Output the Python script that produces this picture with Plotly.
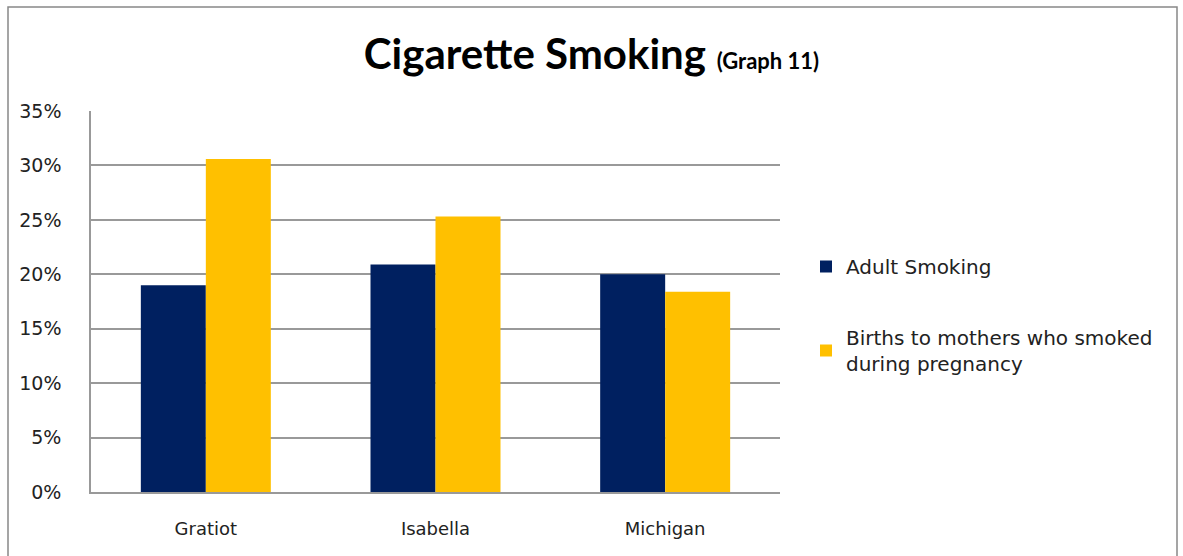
import plotly.graph_objects as go

categories = ["Gratiot", "Isabella", "Michigan"]
adult_smoking = [0.19, 0.209, 0.20]
births_smoked = [0.306, 0.253, 0.184]
series_names = ["Adult Smoking", "Births to mothers who smoked<br>during pregnancy"]
y_ticks = [0, 0.05, 0.10, 0.15, 0.20, 0.25, 0.30, 0.35]
y_tick_labels = ["0%", "5%", "10%", "15%", "20%", "25%", "30%", "35%"]

W, H = 1183, 556
L, R, T, B = 91, 403, 111, 64
pw, ph = W - L - R, H - T - B

def px_x(x):
    return (x - L) / pw

def px_y(y):
    return (H - B - y) / ph

fig = go.Figure()
fig.add_trace(go.Bar(x=categories, y=adult_smoking, name=series_names[0],
                     legendgroup="a",
                     marker=dict(color="#002060", line=dict(width=0))))
fig.add_trace(go.Bar(x=categories, y=births_smoked, name=series_names[1],
                     legendgroup="b",
                     marker=dict(color="#FFC000", line=dict(width=0))))

fig.update_layout(
    width=W, height=H,
    margin=dict(l=L, r=R, t=T, b=B, pad=0),
    paper_bgcolor="white", plot_bgcolor="white",
    barmode="group", bargap=0.434, bargroupgap=0,
    showlegend=True,
    legend=dict(x=px_x(806), y=px_y(247), xanchor="left", yanchor="top",
                font=dict(family="DejaVu Sans", size=20, color="#222"),
                tracegroupgap=42, traceorder="grouped",
                itemwidth=30, bgcolor="rgba(0,0,0,0)"),
    title=dict(
        text="<b>Cigarette Smoking</b> <span style='font-size:22px'><b>(Graph 11)</b></span>",
        x=0.5, xref="container", xanchor="center",
        y=1 - 54 / H, yref="container", yanchor="middle",
        font=dict(family="Lato", size=42, color="#000"),
    ),
    xaxis=dict(showline=True, linecolor="#999", linewidth=1.5, showgrid=False,
               tickfont=dict(family="DejaVu Sans", size=18, color="#222"),
               ticks="", ticklabelstandoff=20),
    yaxis=dict(range=[0, 0.35], tickvals=y_ticks, ticktext=y_tick_labels,
               showline=True, linecolor="#999", linewidth=1.5,
               showgrid=True, gridcolor="#999", gridwidth=1.5,
               ticks="", ticklabelstandoff=24,
               tickfont=dict(family="DejaVu Sans", size=19, color="#222"),
               zeroline=False),
    shapes=[dict(type="rect", xref="paper", yref="paper",
                 x0=px_x(8), x1=px_x(1177), y0=px_y(560), y1=px_y(7),
                 line=dict(color="#888", width=1.5), fillcolor="rgba(0,0,0,0)",
                 layer="below")],
)

fig.write_html("out.html")
